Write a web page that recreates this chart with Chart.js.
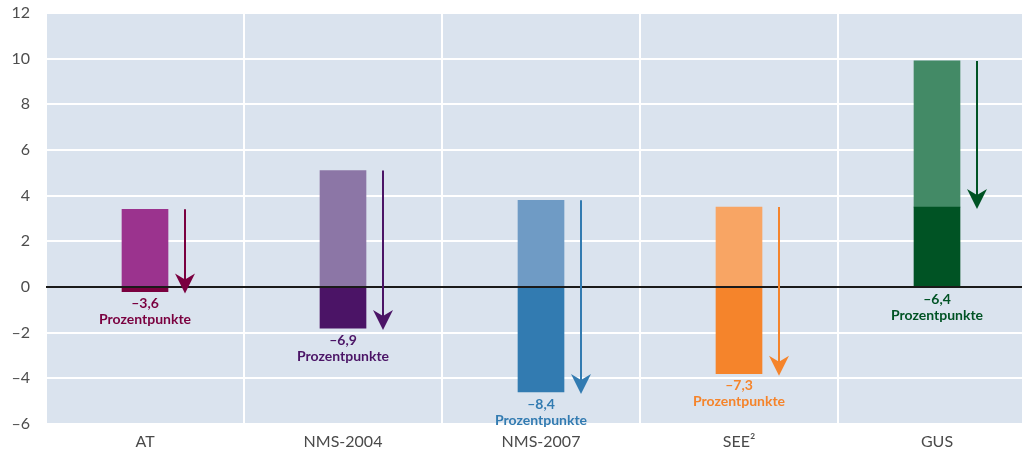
<!DOCTYPE html>
<html>
<head>
<meta charset="utf-8">
<script src="https://cdn.jsdelivr.net/npm/chart.js@4/dist/chart.umd.min.js"></script>
<style>
  html, body { margin: 0; padding: 0; background: #fff; overflow: hidden; }
  #wrap { width: 1036px; height: 456px; }
</style>
</head>
<body>
<div id="wrap"><canvas id="chart" width="1036" height="456"></canvas></div>
<script>
// values
const regions = ['AT', 'NMS-2004', 'NMS-2007', 'SEE²', 'GUS'];
const startValues = [3.4, 5.1, 3.8, 3.5, 9.9];   // top of the light bar / arrow start
const endValues = [-0.2, -1.8, -4.6, -3.8, 3.5]; // arrow end
const changeLabels = ['–3,6', '–6,9', '–8,4', '–7,3', '–6,4'];
const yTicks = [-6, -4, -2, 0, 2, 4, 6, 8, 10, 12];

const lightColors = ['#9b338e', '#8c76a6', '#6f9bc5', '#f8a564', '#438a66'];
const darkColors = ['#7a003f', '#4b1466', '#327bb1', '#f5842b', '#005324'];

const lightBars = regions.map((r, i) => [Math.max(0, endValues[i]), startValues[i]]);
const darkBars = regions.map((r, i) => [0, endValues[i]]);

const plotBg = {
  id: 'plotBg',
  beforeDraw(chart) {
    const { ctx, chartArea: a } = chart;
    ctx.save();
    ctx.fillStyle = '#dae3ee';
    ctx.fillRect(a.left, a.top, a.right - a.left, a.bottom - a.top);
    ctx.restore();
  }
};

// zero line drawn over the bars, arrows and labels
const arrows = {
  id: 'arrows',
  afterDatasetsDraw(chart) {
    const { ctx, scales: { x, y }, chartArea: a } = chart;
    ctx.save();
    const y0 = y.getPixelForValue(0);
    ctx.strokeStyle = '#1a1a1a';
    ctx.lineWidth = 2;
    ctx.beginPath();
    ctx.moveTo(a.left, y0);
    ctx.lineTo(a.right, y0);
    ctx.stroke();

    regions.forEach((r, i) => {
      const cx = x.getPixelForValue(i);
      const ax = cx + 40;
      const yTop = y.getPixelForValue(startValues[i]);
      const yEnd = y.getPixelForValue(endValues[i]);
      ctx.strokeStyle = darkColors[i];
      ctx.fillStyle = darkColors[i];
      ctx.lineWidth = 2;
      ctx.beginPath();
      ctx.moveTo(ax, yTop);
      ctx.lineTo(ax, yEnd - 10);
      ctx.stroke();
      // arrow head with notched back
      ctx.beginPath();
      ctx.moveTo(ax, yEnd + 2);
      ctx.lineTo(ax - 10, yEnd - 18);
      ctx.lineTo(ax, yEnd - 12);
      ctx.lineTo(ax + 10, yEnd - 18);
      ctx.closePath();
      ctx.fill();

      const ly = y.getPixelForValue(Math.min(0, endValues[i])) + 5;
      ctx.fillStyle = darkColors[i];
      ctx.font = 'bold 14px Lato';
      ctx.textAlign = 'center';
      ctx.textBaseline = 'top';
      ctx.fillText(changeLabels[i], cx, ly);
      ctx.fillText('Prozentpunkte', cx, ly + 16);
    });
    ctx.restore();
  }
};

new Chart(document.getElementById('chart'), {
  type: 'bar',
  data: {
    labels: regions,
    datasets: [
      { data: lightBars, backgroundColor: lightColors, barThickness: 46, grouped: false, order: 2 },
      { data: darkBars, backgroundColor: darkColors, barThickness: 46, grouped: false, order: 1 }
    ]
  },
  options: {
    responsive: false,
    animation: false,
    layout: { padding: { top: 13, right: 0, left: 0, bottom: 0 } },
    plugins: { legend: { display: false }, tooltip: { enabled: false } },
    scales: {
      x: {
        grid: { display: true, offset: true, color: '#ffffff', lineWidth: 2, drawTicks: false },
        border: { display: false },
        ticks: { color: '#4a4a4a', font: { family: 'Lato', size: 16 }, padding: 8 },
        afterFit(s) { s.height = 32; }
      },
      y: {
        min: -6,
        max: 12,
        afterBuildTicks(s) { s.ticks = yTicks.map(v => ({ value: v })); },
        grid: { color: '#ffffff', lineWidth: 2, drawTicks: false },
        border: { display: false },
        ticks: {
          color: '#4d4d4d',
          font: { family: 'Lato', size: 16 },
          padding: 16,
          callback: v => String(v).replace('-', '–')
        },
        afterFit(s) { s.width = 46; s.paddingTop = 0; s.paddingBottom = 0; }
      }
    }
  },
  plugins: [plotBg, arrows]
});
</script>
</body>
</html>
